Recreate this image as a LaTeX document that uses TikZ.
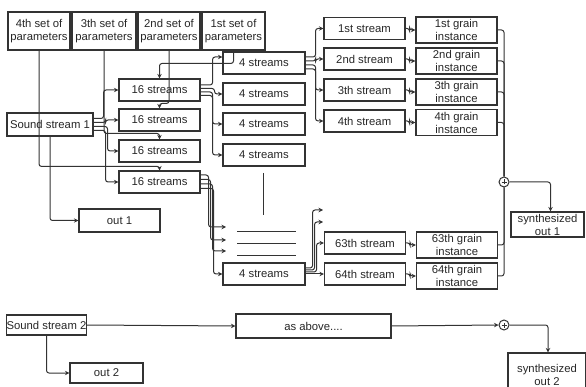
\documentclass[tikz,border=0pt]{standalone}
\usepackage{fontspec}
\setmainfont{Liberation Sans}
\usetikzlibrary{arrows.meta}
\definecolor{ink}{HTML}{333333}
\begin{document}
\begin{tikzpicture}[x=1pt,y=-1pt,
  font=\fontsize{11.3}{13}\selectfont,
  box/.style={draw=ink, line width=1.1pt, inner sep=0pt, align=center, text=black!85},
  conn/.style={draw=ink, line width=1pt, rounded corners=2.5pt},
  arr/.style={conn, -{Stealth[length=4.5pt,width=4.5pt]}},
  sumnode/.style={circle, draw=ink, line width=1pt, minimum size=10pt, inner sep=0pt,
    path picture={\draw[ink, line width=0.7pt]
      ([xshift=-2.5pt]path picture bounding box.center) -- ([xshift=2.5pt]path picture bounding box.center)
      ([yshift=-2.5pt]path picture bounding box.center) -- ([yshift=2.5pt]path picture bounding box.center);}}
]
\useasboundingbox (0,0) rectangle (586,387);
\clip (0,0) rectangle (586,387);

% parameter sets
\node[box, minimum width=62pt, minimum height=38pt] (p4) at (39,31) {4th set of\\parameters};
\node[box, minimum width=64pt, minimum height=38pt] (p3) at (104,31) {3th set of\\parameters};
\node[box, minimum width=62pt, minimum height=38pt] (p2) at (169,31) {2nd set of\\parameters};
\node[box, minimum width=63pt, minimum height=38pt] (p1) at (233.5,31) {1st set of\\parameters};

% sound stream 1 and out 1
\node[box, minimum width=86pt, minimum height=23pt] (ss1) at (50,124.5) {Sound stream 1};
\node[box, minimum width=81pt, minimum height=23pt] (out1) at (119.5,220.5) {out 1};

% 16 streams
\node[box, minimum width=81pt, minimum height=22pt] (s16a) at (159.5,90) {16 streams};
\node[box, minimum width=81pt, minimum height=22pt] (s16b) at (159.5,120) {16 streams};
\node[box, minimum width=81pt, minimum height=22pt] (s16c) at (159.5,151) {16 streams};
\node[box, minimum width=81pt, minimum height=22pt] (s16d) at (159.5,182) {16 streams};

% 4 streams
\node[box, minimum width=82pt, minimum height=22pt] (s4a) at (264,63) {4 streams};
\node[box, minimum width=82pt, minimum height=22pt] (s4b) at (264,94) {4 streams};
\node[box, minimum width=82pt, minimum height=22pt] (s4c) at (264,124) {4 streams};
\node[box, minimum width=82pt, minimum height=22pt] (s4d) at (264,155) {4 streams};
\node[box, minimum width=82pt, minimum height=22pt] (s4e) at (264,274) {4 streams};

% single streams
\node[box, minimum width=81pt, minimum height=22pt] (st1) at (364.5,28.5) {1st stream};
\node[box, minimum width=81pt, minimum height=22pt] (st2) at (364.5,59) {2nd stream};
\node[box, minimum width=81pt, minimum height=22pt] (st3) at (364.5,90) {3th stream};
\node[box, minimum width=81pt, minimum height=22pt] (st4) at (364.5,121) {4th stream};
\node[box, minimum width=81pt, minimum height=22pt] (st63) at (365,243) {63th stream};
\node[box, minimum width=81pt, minimum height=22pt] (st64) at (365,274) {64th stream};

% grain instances
\node[box, minimum width=81pt, minimum height=26pt] (g1) at (456.5,30) {1st grain\\instance};
\node[box, minimum width=81pt, minimum height=26pt] (g2) at (456.5,61) {2nd grain\\instance};
\node[box, minimum width=81pt, minimum height=26pt] (g3) at (456.5,92) {3th grain\\instance};
\node[box, minimum width=81pt, minimum height=26pt] (g4) at (456.5,122.5) {4th grain\\instance};
\node[box, minimum width=81pt, minimum height=26pt] (g63) at (457,245) {63th grain\\instance};
\node[box, minimum width=81pt, minimum height=26pt] (g64) at (457,276) {64th grain\\instance};

% sum and output 1
\node[sumnode] (sum1) at (504,182) {};
\node[box, minimum width=73pt, minimum height=25pt] (so1) at (547.5,224.5) {synthesized\\out 1};

% second chain
\node[box, minimum width=79pt, minimum height=20pt] (ss2) at (46.5,325) {Sound stream 2};
\node[box, minimum width=73pt, minimum height=20pt] (out2) at (106.5,373) {out 2};
\node[box, minimum width=155pt, minimum height=24pt] (ab) at (313.5,326) {as above....};
\node[sumnode] (sum2) at (504,325) {};
\node[box, minimum width=78pt, minimum height=44pt] (so2) at (547,375) {synthesized\\out 2};

% free ends
\coordinate (e1) at (226,227);
\coordinate (e2) at (226,240);
\coordinate (e3) at (226,251);
\coordinate (f1) at (323,210);
\coordinate (f2) at (323,222);

% ellipsis marks
\draw[ink, line width=1pt] (263,173) -- (263,215);
\draw[ink, line width=1pt] (237,232) -- (296,232);
\draw[ink, line width=1pt] (237,244) -- (296,244);
\draw[ink, line width=1pt] (237,256) -- (296,256);

% parameter connectors
\draw[arr] (p4.south) |- ([yshift=4pt]s16d.north) -- (s16d.north);
\draw[arr] (p3.south) |- ([yshift=6pt]s16c.north) -- (s16c.north);
\draw[arr] (p2.south) |- ([yshift=5pt]s16b.north) -- (s16b.north);
\draw[arr] (p1.south) |- ([yshift=15pt]s16a.north) -- (s16a.north);

% sound stream 1 fan-out
\draw[arr] ([yshift=6pt]ss1.east) -- ++(10,0) |- (s16a.west);
\draw[arr] ([yshift=2pt]ss1.east) -- ++(12,0) |- (s16b.west);
\draw[arr] ([yshift=-2pt]ss1.east) -- ++(14,0) |- (s16c.west);
\draw[arr] ([yshift=-6pt]ss1.east) -- ++(12,0) |- (s16d.west);
\draw[arr] (ss1.south) |- (out1.west);

% 16 streams (1) fan-out
\draw[arr] ([yshift=5pt]s16a.east) -- ++(12,0) |- ([yshift=6pt]s4a.west);
\draw[arr] ([yshift=1.5pt]s16a.east) -- ++(14,0) |- (s4b.west);
\draw[arr] ([yshift=-2pt]s16a.east) -- ++(12,0) |- (s4c.west);
\draw[arr] ([yshift=-5.5pt]s16a.east) -- ++(12,0) |- (s4d.west);

% 16 streams (4) fan-out
\draw[arr] ([yshift=7pt]s16d.east) -- ++(8,0) |- (e1);
\draw[arr] ([yshift=2.5pt]s16d.east) -- ++(10,0) |- (e2);
\draw[arr] ([yshift=-2pt]s16d.east) -- ++(12,0) |- (e3);
\draw[arr] ([yshift=-6.5pt]s16d.east) -- ++(13,0) |- (s4e.west);

% 4 streams (1) fan-out
\draw[arr] ([yshift=6pt]s4a.east) -- ++(10,0) |- (st1.west);
\draw[arr] ([yshift=2pt]s4a.east) -- ++(10,0) |- (st2.west);
\draw[arr] ([yshift=-2pt]s4a.east) -- ++(10,0) |- (st3.west);
\draw[arr] ([yshift=-6pt]s4a.east) -- ++(10,0) |- (st4.west);

% 4 streams (last) fan-out
\draw[arr] ([yshift=6pt]s4e.east) -- ++(7,0) |- (f1);
\draw[arr] ([yshift=4pt]s4e.east) -- ++(9,0) |- (f2);
\draw[arr] ([yshift=2pt]s4e.east) -- ++(11,0) |- (st63.west);
\draw[arr] (s4e.east) -- (st64.west);

% stream to grain
\draw[arr] (st1.east) -- ++(4,0) |- (g1.west);
\draw[arr] (st2.east) -- ++(4,0) |- (g2.west);
\draw[arr] (st3.east) -- ++(4,0) |- (g3.west);
\draw[arr] (st4.east) -- ++(4,0) |- (g4.west);
\draw[arr] (st63.east) -- ++(4,0) |- (g63.west);
\draw[arr] (st64.east) -- ++(4,0) |- (g64.west);

% grains to sum bus
\draw[conn] (g1.east) -| (sum1.north);
\draw[conn] (g2.east) -| (sum1.north);
\draw[conn] (g3.east) -| (sum1.north);
\draw[conn] (g4.east) -| (sum1.north);
\draw[conn] (g63.east) -| (sum1.south);
\draw[conn] (g64.east) -| (sum1.south);
\draw[arr] (sum1.east) -| ([xshift=3pt]so1.north);

% second chain connectors
\draw[arr] (ss2.east) -- (ab.west);
\draw[arr] (ss2.south) |- (out2.west);
\draw[arr] (ab.east) -- (sum2.west);
\draw[arr] (sum2.east) -| ([xshift=1pt]so2.north);
\end{tikzpicture}
\end{document}
